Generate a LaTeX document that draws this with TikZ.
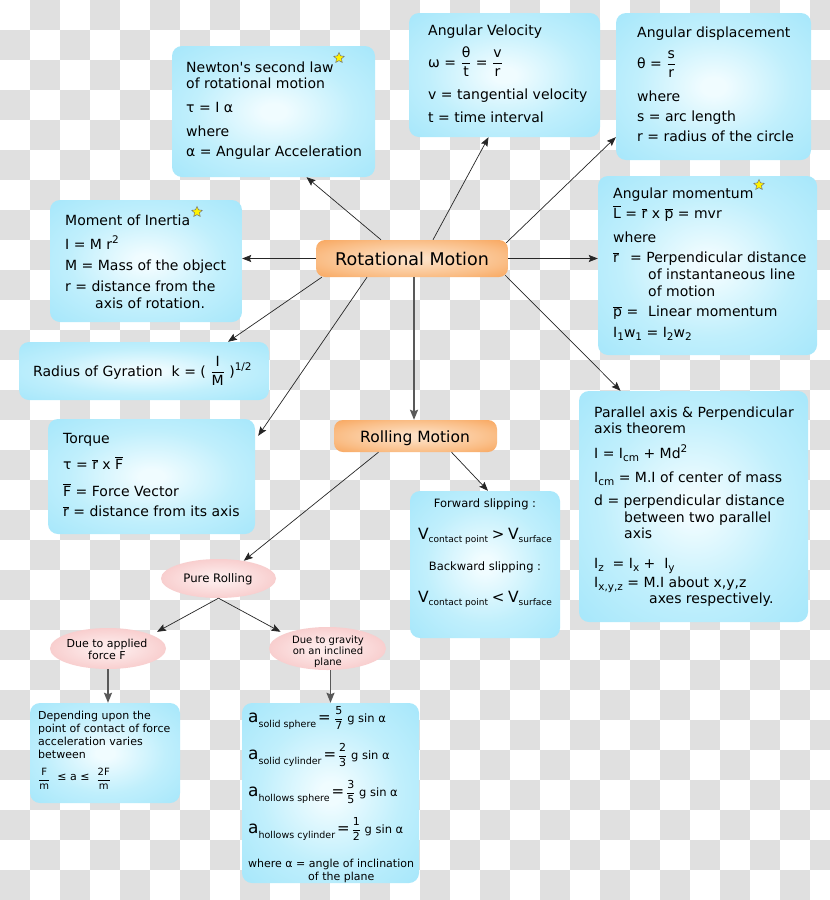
\documentclass[tikz,border=0pt]{standalone}
\usepackage{fontspec}
\setmainfont{DejaVu Sans}
\usetikzlibrary{shapes.geometric,arrows.meta,calc}
\definecolor{chk}{RGB}{224,224,224}
\definecolor{bin}{RGB}{240,252,255}
\definecolor{bmid}{RGB}{192,239,252}
\definecolor{bout}{RGB}{150,226,250}
\definecolor{oin}{RGB}{253,224,196}
\definecolor{omid}{RGB}{250,190,135}
\definecolor{oout}{RGB}{246,142,52}
\definecolor{pin}{RGB}{253,234,234}
\definecolor{pmid}{RGB}{248,205,205}
\definecolor{pout}{RGB}{242,172,172}
\pgfdeclareradialshading{bsh}{\pgfpoint{0bp}{0bp}}{color(0bp)=(bin); color(3bp)=(bin); color(20bp)=(bmid); color(45bp)=(bout); color(50bp)=(bout)}
\pgfdeclareradialshading{osh}{\pgfpoint{0bp}{0bp}}{color(0bp)=(oin); color(4bp)=(oin); color(24bp)=(omid); color(48bp)=(oout); color(50bp)=(oout)}
\pgfdeclareradialshading{psh}{\pgfpoint{0bp}{0bp}}{color(0bp)=(pin); color(6bp)=(pin); color(26bp)=(pmid); color(50bp)=(pout)}
\newcommand\ovl[1]{$\overline{\hbox{#1}}$}
\newcommand\fr[2]{$\displaystyle\frac{\hbox{#1}}{\hbox{#2}}$}
\newcommand\sps[1]{\raisebox{6pt}{\fontsize{10.5}{10}\selectfont #1}}
\newcommand\sbs[1]{\raisebox{-3.5pt}{\fontsize{10.5}{10}\selectfont #1}}
\newcommand\sbsm[1]{\raisebox{-3.5pt}{\fontsize{9}{9}\selectfont #1}}
\newcommand\sbsa[1]{\raisebox{-5pt}{\fontsize{9.5}{9}\selectfont #1}}
\newcommand\bigV{{\fontsize{15.5}{16}\selectfont V}}
\newcommand\bigA{{\fontsize{17}{16}\selectfont a}}
\newcommand\bigEq[1]{{\fontsize{15}{16}\selectfont #1}}
\newcommand\frA[2]{{\fontsize{11}{10}\selectfont$\displaystyle\frac{\hbox{#1}}{\hbox{#2}}$}}
\newcommand\gsin{{\fontsize{11.5}{12}\selectfont g sin α}}
\newcommand\lsl{\lineskiplimit=-\maxdimen\lineskip=0pt\parindent=0pt}
\begin{document}
\begin{tikzpicture}[x=1pt,y=-1pt,
  bbox/.style={shade, shading=bsh, rounded corners=10pt, inner sep=0pt},
  obox/.style={shade, shading=osh, rounded corners=9pt, inner sep=0pt},
  pell/.style={shade, shading=psh, ellipse, inner sep=0pt},
  txt/.style={inner sep=0pt, anchor=base west, font=\fontsize{14}{16}\selectfont},
  ctxt/.style={inner sep=0pt, anchor=base},
  starn/.style={star, star points=5, star point ratio=2.1, fill=yellow, draw=black!55, line width=0.5pt, minimum size=11pt, inner sep=0pt},
  arr/.style={-{Stealth[length=9pt,width=7pt,inset=1.5pt]}, line width=0.7pt, draw=black!85},
  arrv/.style={-{Stealth[length=10pt,width=8pt,inset=1.5pt]}, line width=1.6pt, draw=black!65, fill=black!65}]
\useasboundingbox (0,0) rectangle (830,900);
\fill[white] (0,0) rectangle (830,900);
\begin{scope}
\clip (0,0) rectangle (830,900);
\foreach \i in {0,...,27}{\foreach \j in {0,...,29}{%
  \pgfmathtruncatemacro\k{mod(\i+\j,2)}%
  \ifnum\k=1 \fill[chk] (\i*30,\j*30) rectangle ++(30,30);\fi}}
\end{scope}

% boxes
\node[bbox, minimum width=203pt, minimum height=131pt] (newton) at (273.5,111.5) {};
\node[bbox, minimum width=192pt, minimum height=122pt] (moment) at (146,261) {};
\node[bbox, minimum width=191pt, minimum height=124pt] (angvel) at (504.5,75) {};
\node[bbox, minimum width=195pt, minimum height=147pt] (angdisp) at (713.5,86.5) {};
\node[bbox, minimum width=219pt, minimum height=179pt] (angmom) at (707.5,265.5) {};
\node[bbox, minimum width=250pt, minimum height=58pt] (radius) at (144,371) {};
\node[bbox, minimum width=207pt, minimum height=115pt] (torque) at (151.5,476.5) {};
\node[bbox, minimum width=229pt, minimum height=231pt] (parallel) at (693.5,506.5) {};
\node[bbox, minimum width=150pt, minimum height=147pt] (forward) at (485,564.5) {};
\node[bbox, minimum width=150pt, minimum height=100pt] (depend) at (105,753) {};
\node[bbox, minimum width=177pt, minimum height=180pt] (acc) at (330.5,793) {};
\node[obox, minimum width=192pt, minimum height=37pt] (rot) at (412,258.5) {};
\node[obox, minimum width=163pt, minimum height=32pt] (rolling) at (415.5,436) {};
\node[pell, minimum width=115pt, minimum height=39pt] (pure) at (218.5,578.5) {};
\node[pell, minimum width=116pt, minimum height=41pt] (applied) at (108,648.5) {};
\node[pell, minimum width=117pt, minimum height=43pt] (grav) at (327.5,648.5) {};

% texts
\node[txt] (tNewton) at (186,72) {\parbox[t]{200pt}{\lsl\raggedright
Newton\textquotesingle s second law\\
of rotational motion\\[8pt]
τ = I α\\[8pt]
where\\[4pt]
α = Angular Acceleration}};
\node[starn] (star1) at (339,58) {};

\node[txt] (tMoment) at (65,225) {\parbox[t]{200pt}{\lsl\raggedright
Moment of Inertia\\[8pt]
I = M r\sps{2}\\[5pt]
M = Mass of the object\\[5pt]
r = distance from the\\[1pt]
\hspace*{30pt}axis of rotation.}};
\node[starn] (star2) at (197,212) {};

\node[txt] (tAngvel) at (428,35) {\parbox[t]{200pt}{\lsl\raggedright
Angular Velocity\\[16pt]
ω = \fr{θ}{t} = \fr{v}{r}\\[16pt]
v = tangential velocity\\[7pt]
t = time interval}};

\node[txt] (tAngdisp) at (637,37) {\parbox[t]{200pt}{\lsl\raggedright
Angular displacement\\[15pt]
θ = \fr{s}{r}\\[17pt]
where\\[4pt]
s = arc length\\[4pt]
r = radius of the circle}};

\node[txt] (tAngmom) at (613,198) {\parbox[t]{220pt}{\lsl\raggedright
Angular momentum\\[4pt]
\ovl{L} = \ovl{r} x \ovl{p} = mvr\\[8pt]
where\\[4pt]
\makebox[17pt][l]{\ovl{r}}= Perpendicular distance\\[1pt]
\hspace*{35pt}of instantaneous line\\[1pt]
\hspace*{35pt}of motion\\[4pt]
\makebox[35pt][l]{\ovl{p} =}Linear momentum\\[5pt]
I\sbs{1}w\sbs{1} = I\sbs{2}w\sbs{2}}};
\node[starn] (star3) at (759,185) {};

\node[txt] (tRadius) at (33,376) {Radius of Gyration\ \ k = ( \fr{I}{M} )\sps{1/2}};

\node[txt] (tTorque) at (63,443) {\parbox[t]{200pt}{\lsl\raggedright
Torque\\[10pt]
τ = \ovl{r} x \ovl{F}\\[11pt]
\ovl{F} = Force Vector\\[4pt]
\ovl{r} = distance from its axis}};

\node[txt] (tParallel) at (594,417) {\parbox[t]{220pt}{\lsl\raggedright
Parallel axis \& Perpendicular\\
axis theorem\\[9pt]
I = I\sbs{cm} + Md\sps{2}\\[8pt]
I\sbs{cm} = M.I of center of mass\\[7pt]
d = perpendicular distance\\[1pt]
\hspace*{30pt}between two parallel\\
\hspace*{30pt}axis\\[14pt]
I\sbs{z}\ \ = I\sbs{x} +\ \ I\sbs{y}\\[3pt]
I\sbs{x,y,z} = M.I about x,y,z\\
\hspace*{55pt}axes respectively.}};

\node[ctxt] (tForward) at (485,507) {\parbox[t]{150pt}{\lsl\centering\fontsize{11.5}{16}\selectfont
Forward slipping :\\[16pt]
\bigV\sbsm{contact point}\ \bigEq{>}\ \bigV\sbsm{surface}\\[15pt]
Backward slipping :\\[16pt]
\bigV\sbsm{contact point}\ \bigEq{<}\ \bigV\sbsm{surface}}};

\node[txt] (tDepend) at (38,719) {\parbox[t]{150pt}{\lsl\raggedright\fontsize{11}{13}\selectfont
Depending upon the\\
point of contact of force\\
acceleration varies\\
between\\[9pt]
{\fontsize{10}{10}\selectfont\raisebox{-2.5pt}{\fr{F}{m}}}\ \ ≤\ a\ ≤\ \ {\fontsize{10}{10}\selectfont\raisebox{-2.5pt}{\fr{2F}{m}}}}};

\node[txt] (tAcc) at (248,722) {\parbox[t]{180pt}{\lsl\raggedright\fontsize{11.5}{14}\selectfont
\bigA\sbsa{solid sphere}\,\bigEq{=}\ \frA{5}{7}\ \gsin\\[23pt]
\bigA\sbsa{solid cylinder}\,\bigEq{=}\,\frA{2}{3}\ \gsin\\[23pt]
\bigA\sbsa{hollows sphere}\,\bigEq{=}\,\frA{3}{5}\ \gsin\\[23pt]
\bigA\sbsa{hollows cylinder}\,\bigEq{=}\,\frA{1}{2}\ \gsin\\[20pt]
{\fontsize{11}{14}\selectfont where α = angle of inclination}\\[-1pt]
\hspace*{60pt}{\fontsize{11}{14}\selectfont of the plane}}};

\node[ctxt, font=\fontsize{17.5}{18}\selectfont] (tRot) at (412,265) {Rotational Motion};
\node[ctxt, font=\fontsize{15.5}{16}\selectfont] (tRol) at (415,442) {Rolling Motion};
\node[ctxt, font=\fontsize{11.7}{12}\selectfont] (tPure) at (218,582) {Pure Rolling};
\node[ctxt] (tApplied) at (107,647) {\parbox[t]{110pt}{\lsl\centering\fontsize{11}{12}\selectfont Due to applied\\ force F}};
\node[ctxt] (tGrav) at (328,643) {\parbox[t]{110pt}{\lsl\centering\fontsize{10}{11.3}\selectfont Due to gravity\\ on an inclined\\ plane}};

% connectors
\draw[arr] ([xshift=-31pt]rot.north) -- ([xshift=33pt]newton.south);
\draw[arr] (rot.west) -- (rot.west -| moment.east);
\draw[arr] ([xshift=21pt]rot.north) -- ([xshift=-16pt]angvel.south);
\draw[arr] ([shift={(-2pt,-3pt)}]rot.north east) -- ([yshift=23pt]angdisp.south west);
\draw[arr] (rot.east) -- (rot.east -| angmom.west);
\draw[arr] ([xshift=6pt]rot.south west) -- ([xshift=84pt]radius.north);
\draw[arr] ([xshift=-45pt]rot.south) -- ([shift={(3pt,-17pt)}]torque.north east);
\draw[arrv] ([xshift=2pt]rot.south) -- ([xshift=2pt]rot.south |- rolling.north);
\draw[arr] ([shift={(-3pt,2pt)}]rot.south east) -- ([xshift=-73pt]parallel.north);
\draw[arr] ([xshift=36pt]rolling.south) -- ([xshift=3pt]forward.north);
\draw[arr] ([xshift=-37pt]rolling.south) -- (pure.35);
\draw[arr] (pure.south) -- ([shift={(49pt,-4pt)}]applied.north);
\draw[arr] (pure.south) -- ([shift={(-47pt,-5pt)}]grav.north);
\draw[arrv] (applied.south) -- (applied.south |- depend.north);
\draw[arrv] (acc.north |- grav.south) -- (acc.north);
\end{tikzpicture}
\end{document}
